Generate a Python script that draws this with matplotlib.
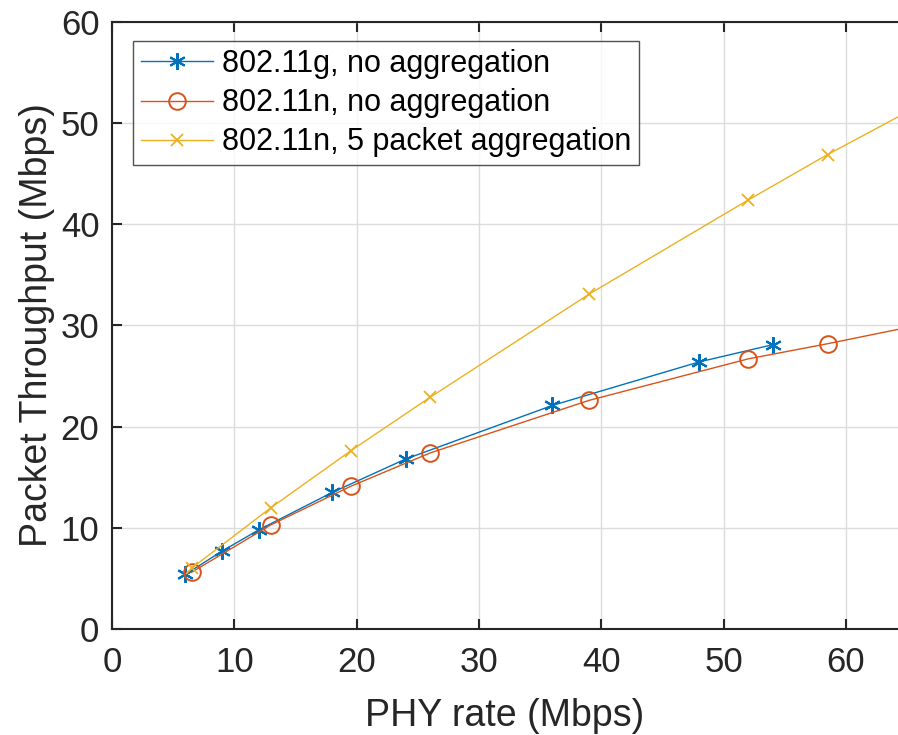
import numpy as np
import matplotlib
matplotlib.use("Agg")
import matplotlib.pyplot as plt

plt.rcParams['font.family'] = ['Liberation Sans', 'DejaVu Sans']

# 802.11g, no aggregation
g_rate = [6, 9, 12, 18, 24, 36, 48, 54]
g_thr = [5.4, 7.7, 9.8, 13.5, 16.8, 22.1, 26.4, 28.1]

# 802.11n, no aggregation
n_rate = [6.5, 13, 19.5, 26, 39, 52, 58.5, 65]
n_thr = [5.6, 10.3, 14.1, 17.4, 22.6, 26.7, 28.2, 29.8]

# 802.11n, 5 packet aggregation
n5_rate = [6.5, 13, 19.5, 26, 39, 52, 58.5, 65]
n5_thr = [6.0, 12.0, 17.6, 22.9, 33.1, 42.4, 46.9, 51.1]

fig = plt.figure(figsize=(8.98, 7.35), dpi=100)
ax = fig.add_axes([0.1247, 0.1442, 0.8753, 0.8259])

# MATLAB style asterisk marker
ast = (6, 2, 0)
ax.plot(g_rate, g_thr, '-', marker=ast, color='#0072BD', lw=1, ms=12, mew=1.5,
        label='802.11g, no aggregation')
ax.plot(n_rate, n_thr, '-o', color='#D95319', lw=1, ms=12, mfc='none', mew=1.4,
        label='802.11n, no aggregation')
ax.plot(n5_rate, n5_thr, '-x', color='#EDB120', lw=1, ms=9, mew=1.3,
        label='802.11n, 5 packet aggregation')

ax.set_xlim(0, 64.25)
ax.set_ylim(0, 60)
ax.set_xticks(np.arange(0, 61, 10))
ax.set_yticks(np.arange(0, 61, 10))
ax.grid(True, color='#dcdcdc', lw=1)
ax.set_axisbelow(True)
ax.tick_params(direction='in', labelsize=25, length=7, width=1.5, colors='#262626',
               top=True)
ax.tick_params(axis='x', pad=12)
ax.tick_params(axis='y', pad=9)
ax.spines['right'].set_visible(False)
for s in ['left', 'bottom', 'top']:
    ax.spines[s].set_linewidth(1.5)
    ax.spines[s].set_color('#262626')

ax.set_xlabel('PHY rate (Mbps)', fontsize=27, color='#262626', labelpad=14)
ax.set_ylabel('Packet Throughput (Mbps)', fontsize=27, color='#262626', labelpad=4)

leg = ax.legend(loc='upper left', bbox_to_anchor=(0.027, 0.968), fontsize=22,
                frameon=True, fancybox=False, edgecolor='#262626',
                borderpad=0.25, labelspacing=0.3, handlelength=2.35, handletextpad=0.3,
                borderaxespad=0)
leg.get_frame().set_linewidth(1)

fig.savefig('out.png', dpi=100)
